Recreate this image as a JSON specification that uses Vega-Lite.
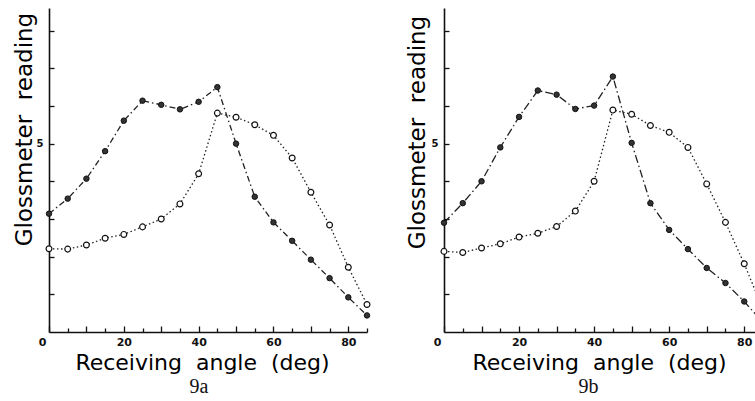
{
  "$schema": "https://vega.github.io/schema/vega-lite/v6.json",
  "background": "white",
  "padding": {"left": 12, "top": 8, "right": 0, "bottom": 0},
  "config": {
    "view": {"stroke": null},
    "axis": {
      "grid": false,
      "domainColor": "#111",
      "domainWidth": 1.6,
      "tickColor": "#111",
      "tickWidth": 1.3,
      "labelFont": "DejaVu Sans",
      "labelFontWeight": "bold",
      "labelColor": "#111",
      "titleFont": "DejaVu Sans",
      "titleFontWeight": "normal",
      "titleColor": "#000",
      "labelOverlap": false,
      "labelFlush": false
    }
  },
  "datasets": {
    "a": [
      {"series": "filled", "angle": 0, "value": 3.14},
      {"series": "filled", "angle": 5, "value": 3.54},
      {"series": "filled", "angle": 10, "value": 4.07},
      {"series": "filled", "angle": 15, "value": 4.8},
      {"series": "filled", "angle": 20, "value": 5.61},
      {"series": "filled", "angle": 25, "value": 6.14},
      {"series": "filled", "angle": 30, "value": 6.03},
      {"series": "filled", "angle": 35, "value": 5.91},
      {"series": "filled", "angle": 40, "value": 6.11},
      {"series": "filled", "angle": 45, "value": 6.5},
      {"series": "filled", "angle": 50, "value": 5.0},
      {"series": "filled", "angle": 55, "value": 3.59},
      {"series": "filled", "angle": 60, "value": 2.91},
      {"series": "filled", "angle": 65, "value": 2.42},
      {"series": "filled", "angle": 70, "value": 1.92},
      {"series": "filled", "angle": 75, "value": 1.43},
      {"series": "filled", "angle": 80, "value": 0.92},
      {"series": "filled", "angle": 85, "value": 0.44},
      {"series": "open", "angle": 0, "value": 2.21},
      {"series": "open", "angle": 5, "value": 2.2},
      {"series": "open", "angle": 10, "value": 2.31},
      {"series": "open", "angle": 15, "value": 2.49},
      {"series": "open", "angle": 20, "value": 2.59},
      {"series": "open", "angle": 25, "value": 2.79},
      {"series": "open", "angle": 30, "value": 3.0},
      {"series": "open", "angle": 35, "value": 3.4},
      {"series": "open", "angle": 40, "value": 4.2},
      {"series": "open", "angle": 45, "value": 5.81},
      {"series": "open", "angle": 50, "value": 5.7},
      {"series": "open", "angle": 55, "value": 5.5},
      {"series": "open", "angle": 60, "value": 5.22},
      {"series": "open", "angle": 65, "value": 4.62},
      {"series": "open", "angle": 70, "value": 3.71},
      {"series": "open", "angle": 75, "value": 2.84},
      {"series": "open", "angle": 80, "value": 1.72},
      {"series": "open", "angle": 85, "value": 0.73}
    ],
    "b": [
      {"series": "filled", "angle": 0, "value": 2.9},
      {"series": "filled", "angle": 5, "value": 3.42},
      {"series": "filled", "angle": 10, "value": 4.0},
      {"series": "filled", "angle": 15, "value": 4.9},
      {"series": "filled", "angle": 20, "value": 5.71},
      {"series": "filled", "angle": 25, "value": 6.41},
      {"series": "filled", "angle": 30, "value": 6.3},
      {"series": "filled", "angle": 35, "value": 5.92},
      {"series": "filled", "angle": 40, "value": 6.01},
      {"series": "filled", "angle": 45, "value": 6.78},
      {"series": "filled", "angle": 50, "value": 5.02},
      {"series": "filled", "angle": 55, "value": 3.42},
      {"series": "filled", "angle": 60, "value": 2.71},
      {"series": "filled", "angle": 65, "value": 2.2},
      {"series": "filled", "angle": 70, "value": 1.7},
      {"series": "filled", "angle": 75, "value": 1.3},
      {"series": "filled", "angle": 80, "value": 0.81},
      {"series": "filled", "angle": 85, "value": 0.25},
      {"series": "open", "angle": 0, "value": 2.14},
      {"series": "open", "angle": 5, "value": 2.11},
      {"series": "open", "angle": 10, "value": 2.23},
      {"series": "open", "angle": 15, "value": 2.34},
      {"series": "open", "angle": 20, "value": 2.52},
      {"series": "open", "angle": 25, "value": 2.62},
      {"series": "open", "angle": 30, "value": 2.8},
      {"series": "open", "angle": 35, "value": 3.21},
      {"series": "open", "angle": 40, "value": 4.0},
      {"series": "open", "angle": 45, "value": 5.89},
      {"series": "open", "angle": 50, "value": 5.78},
      {"series": "open", "angle": 55, "value": 5.48},
      {"series": "open", "angle": 60, "value": 5.3},
      {"series": "open", "angle": 65, "value": 4.9},
      {"series": "open", "angle": 70, "value": 3.93},
      {"series": "open", "angle": 75, "value": 2.91},
      {"series": "open", "angle": 80, "value": 1.81},
      {"series": "open", "angle": 85, "value": 0.6}
    ]
  },
  "spacing": 32,
  "hconcat": [
    {
      "width": 318,
      "height": 324,
      "data": {"name": "a"},
      "title": {"text": "9a", "orient": "bottom", "frame": "group", "anchor": "middle", "font": "Liberation Serif", "fontSize": 20, "fontWeight": "normal", "color": "#111", "offset": 4, "dx": -9},
      "encoding": {
        "x": {
          "field": "angle", "type": "quantitative",
          "scale": {"domain": [0, 85], "nice": false, "zero": false},
          "axis": {
            "values": [0, 5, 10, 15, 20, 25, 30, 35, 40, 45, 50, 55, 60, 65, 70, 75, 80, 85],
            "labelExpr": "datum.value % 20 == 0 ? datum.label : ''",
            "tickSize": {"condition": {"test": "datum.value % 10 == 0", "value": -6}, "value": -4},
            "labelPadding": 10,
            "labelFontSize": 11,
            "labelOffset": {"condition": {"test": "datum.value == 0", "value": -7}, "value": 0},
            "title": "Receiving\u00a0\u00a0angle\u00a0\u00a0(deg)",
            "titleFontSize": 22,
            "titleX": 153,
            "titleY": 37,
            "titleAlign": "center",
            "titleBaseline": "alphabetic"
          }
        },
        "y": {
          "field": "value", "type": "quantitative",
          "scale": {"domain": [0, 8.6], "nice": false},
          "axis": {
            "values": [1, 2, 3, 4, 5, 6, 7, 8],
            "labelExpr": "datum.value == 5 ? '5' : ''",
            "tickSize": -5,
            "labelPadding": 11,
            "labelFontSize": 10,
            "title": "Glossmeter\u00a0\u00a0reading",
            "titleFontSize": 23,
            "titleAngle": -90,
            "titleX": -18,
            "titleY": 121,
            "titleAlign": "center",
            "titleBaseline": "alphabetic"
          }
        }
      },
      "layer": [
        {"transform": [{"filter": "datum.series == 'filled'"}], "mark": {"type": "line", "color": "#222", "strokeWidth": 1.3, "strokeDash": [6, 3, 1.5, 3]}},
        {"transform": [{"filter": "datum.series == 'open'"}], "mark": {"type": "line", "color": "#222", "strokeWidth": 1.3, "strokeDash": [1.5, 2.5]}},
        {"transform": [{"filter": "datum.series == 'filled'"}], "mark": {"type": "point", "shape": "circle", "filled": true, "fill": "#333", "stroke": "#111", "strokeWidth": 1, "size": 30, "opacity": 1}},
        {"transform": [{"filter": "datum.series == 'open'"}], "mark": {"type": "point", "shape": "circle", "filled": false, "fill": "white", "stroke": "#111", "strokeWidth": 1.2, "size": 34, "opacity": 1}}
      ]
    },
    {
      "width": 319,
      "height": 324,
      "data": {"name": "b"},
      "title": {"text": "9b", "orient": "bottom", "frame": "group", "anchor": "middle", "font": "Liberation Serif", "fontSize": 20, "fontWeight": "normal", "color": "#111", "offset": 4, "dx": -15},
      "encoding": {
        "x": {
          "field": "angle", "type": "quantitative",
          "scale": {"domain": [0, 85], "nice": false, "zero": false},
          "axis": {
            "values": [0, 5, 10, 15, 20, 25, 30, 35, 40, 45, 50, 55, 60, 65, 70, 75, 80, 85],
            "labelExpr": "datum.value % 20 == 0 ? datum.label : ''",
            "tickSize": {"condition": {"test": "datum.value % 10 == 0", "value": -6}, "value": -4},
            "labelPadding": 10,
            "labelFontSize": 11,
            "labelOffset": {"condition": {"test": "datum.value == 0", "value": -7}, "value": 0},
            "title": "Receiving\u00a0\u00a0angle\u00a0\u00a0(deg)",
            "titleFontSize": 22,
            "titleX": 155,
            "titleY": 37,
            "titleAlign": "center",
            "titleBaseline": "alphabetic"
          }
        },
        "y": {
          "field": "value", "type": "quantitative",
          "scale": {"domain": [0, 8.6], "nice": false},
          "axis": {
            "values": [1, 2, 3, 4, 5, 6, 7, 8],
            "labelExpr": "datum.value == 5 ? '5' : ''",
            "tickSize": -5,
            "labelPadding": 11,
            "labelFontSize": 10,
            "title": "Glossmeter\u00a0\u00a0reading",
            "titleFontSize": 23,
            "titleAngle": -90,
            "titleX": -20,
            "titleY": 124,
            "titleAlign": "center",
            "titleBaseline": "alphabetic"
          }
        }
      },
      "layer": [
        {"transform": [{"filter": "datum.series == 'filled'"}], "mark": {"type": "line", "color": "#222", "strokeWidth": 1.3, "strokeDash": [8, 3, 1.5, 3]}},
        {"transform": [{"filter": "datum.series == 'open'"}], "mark": {"type": "line", "color": "#222", "strokeWidth": 1.3, "strokeDash": [1.5, 2.5]}},
        {"transform": [{"filter": "datum.series == 'filled'"}], "mark": {"type": "point", "shape": "circle", "filled": true, "fill": "#333", "stroke": "#111", "strokeWidth": 1, "size": 30, "opacity": 1}},
        {"transform": [{"filter": "datum.series == 'open'"}], "mark": {"type": "point", "shape": "circle", "filled": false, "fill": "white", "stroke": "#111", "strokeWidth": 1.2, "size": 34, "opacity": 1}}
      ]
    }
  ]
}
